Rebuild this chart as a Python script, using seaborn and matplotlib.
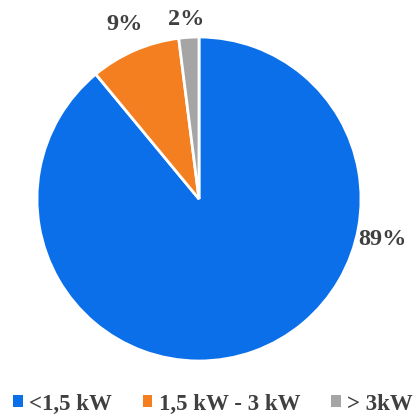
import matplotlib
matplotlib.use("Agg")
import matplotlib.pyplot as plt
import seaborn as sns

categorias = ["<1,5 kW", "1,5 kW - 3 kW", "> 3kW"]
valores = [89, 9, 2]
cores = ["#0A6FE8", "#F47F20", "#A5A5A5"]
# label positions (pie radius = 1)
pos_rotulos = [(1.13, -0.25), (-0.46, 1.08), (-0.08, 1.11)]

sns.set_theme(style="white")
plt.rcParams["font.family"] = ["Liberation Serif", "DejaVu Serif"]

fig = plt.figure(figsize=(4.19, 4.18), dpi=100)
ax = fig.add_axes([37 / 419, 57 / 418, 324 / 419, 324 / 418])

wedges, _ = ax.pie(
    valores, colors=cores, startangle=90, counterclock=False,
    radius=1, wedgeprops=dict(edgecolor="white", linewidth=2),
)
ax.set_xlim(-1, 1)
ax.set_ylim(-1, 1)
ax.set_aspect("equal")

for v, (x, y) in zip(valores, pos_rotulos):
    ax.text(x, y, f"{v}%", ha="center", va="center", fontsize=17.5,
            fontweight="bold", color="#404040", clip_on=False)

leg = fig.legend(
    wedges, categorias, loc="center", bbox_to_anchor=(213 / 419, 1 - 404 / 418),
    ncol=3, frameon=False, handlelength=0.42, handleheight=0.42,
    handletextpad=0.28, columnspacing=1.35, borderpad=0, borderaxespad=0,
    prop={"weight": "bold", "size": 16.5},
)
for t in leg.get_texts():
    t.set_color("#404040")
for h in leg.legend_handles:
    h.set_edgecolor("none")

fig.savefig("out.png", dpi=100)
